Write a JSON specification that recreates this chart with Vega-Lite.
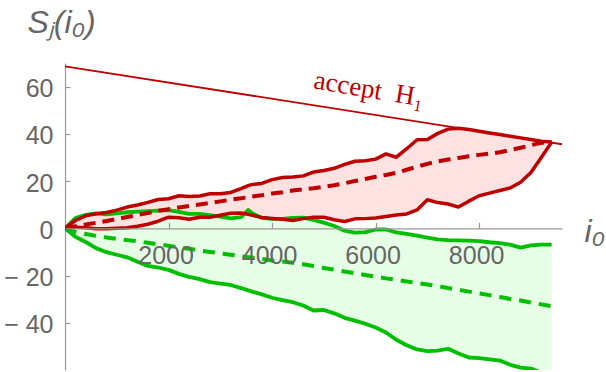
{
  "$schema": "https://vega.github.io/schema/vega-lite/v6.json",
  "width": 497,
  "height": 307,
  "autosize": {"type": "none"},
  "padding": {"left": 65, "top": 63, "right": 44, "bottom": 2},
  "background": "white",
  "config": {
    "view": {"stroke": null},
    "font": "Liberation Sans",
    "axis": {
      "grid": false, "labelFontSize": 25, "labelColor": "#666666", "labelFont": "Liberation Sans",
      "domainColor": "#999999", "tickColor": "#999999", "domainWidth": 1.2, "tickWidth": 1.2,
      "titleFontSize": 32, "titleFontWeight": "normal", "titleFontStyle": "italic", "titleColor": "#666666", "titleFont": "Liberation Sans",
      "titleAlign": "left", "titleBaseline": "alphabetic", "labelFlush": false, "labelOverlap": false
    },
    "axisY": {"tickSize": -5, "labelPadding": 17, "labelOffset": 2, "titleAngle": 0, "titleX": -38, "titleY": -31}
  },
  "datasets": {
    "curves": [
      {"x": 0, "rU": 0, "rL": 0, "rM": 0, "gU": 0, "gL": 0, "gM": 0},
      {"x": 200, "rU": 3.3, "rL": 0.5, "rM": 0.85, "gU": 4.3, "gL": -3.6, "gM": -1.5},
      {"x": 400, "rU": 5.3, "rL": 0.2, "rM": 1.6, "gU": 5.7, "gL": -5.8, "gM": -2.4},
      {"x": 600, "rU": 6.2, "rL": -0.2, "rM": 2.35, "gU": 6.3, "gL": -8.4, "gM": -3.2},
      {"x": 800, "rU": 6.7, "rL": -0.2, "rM": 3.1, "gU": 5.9, "gL": -10.1, "gM": -3.9},
      {"x": 1000, "rU": 7.7, "rL": 0, "rM": 3.9, "gU": 6.3, "gL": -11.2, "gM": -4.5},
      {"x": 1200, "rU": 9.0, "rL": 0.2, "rM": 4.8, "gU": 6.8, "gL": -12.3, "gM": -5.0},
      {"x": 1400, "rU": 9.9, "rL": 0.9, "rM": 5.6, "gU": 7.1, "gL": -14.2, "gM": -5.5},
      {"x": 1600, "rU": 11.0, "rL": 1.7, "rM": 6.5, "gU": 7.3, "gL": -15.9, "gM": -6.1},
      {"x": 1800, "rU": 12.2, "rL": 3.0, "rM": 7.4, "gU": 7.5, "gL": -16.6, "gM": -6.8},
      {"x": 2000, "rU": 12.5, "rL": 4.7, "rM": 8.1, "gU": 7.7, "gL": -17.6, "gM": -7.4},
      {"x": 2200, "rU": 13.8, "rL": 4.5, "rM": 8.8, "gU": 7.0, "gL": -19.3, "gM": -8.1},
      {"x": 2400, "rU": 13.5, "rL": 3.8, "rM": 9.5, "gU": 6.1, "gL": -20.6, "gM": -8.7},
      {"x": 2600, "rU": 13.7, "rL": 4.7, "rM": 10.1, "gU": 6.1, "gL": -21.5, "gM": -9.4},
      {"x": 2800, "rU": 14.6, "rL": 4.7, "rM": 10.7, "gU": 5.6, "gL": -22.8, "gM": -10.0},
      {"x": 3000, "rU": 14.6, "rL": 5.5, "rM": 11.4, "gU": 4.9, "gL": -23.4, "gM": -10.6},
      {"x": 3200, "rU": 15.2, "rL": 6.4, "rM": 12.1, "gU": 4.2, "gL": -24.0, "gM": -11.2},
      {"x": 3400, "rU": 16.8, "rL": 6.5, "rM": 12.7, "gU": 4.7, "gL": -25.3, "gM": -11.8},
      {"x": 3540, "rU": 18.1, "rL": 5.9, "rM": 13.2, "gU": 7.8, "gL": -26.3, "gM": -12.2},
      {"x": 3600, "rU": 18.5, "rL": 5.6, "rM": 13.4, "gU": 6.6, "gL": -26.7, "gM": -12.4},
      {"x": 3800, "rU": 19.0, "rL": 4.6, "rM": 14.0, "gU": 4.4, "gL": -28.0, "gM": -13.0},
      {"x": 4000, "rU": 20.6, "rL": 4.2, "rM": 14.7, "gU": 4.0, "gL": -29.4, "gM": -13.6},
      {"x": 4200, "rU": 21.5, "rL": 3.8, "rM": 15.3, "gU": 4.0, "gL": -30.4, "gM": -14.1},
      {"x": 4400, "rU": 21.7, "rL": 3.3, "rM": 16.0, "gU": 4.4, "gL": -31.3, "gM": -14.6},
      {"x": 4600, "rU": 22.2, "rL": 4.1, "rM": 16.5, "gU": 4.5, "gL": -32.7, "gM": -15.2},
      {"x": 4800, "rU": 23.8, "rL": 4.7, "rM": 17.0, "gU": 3.6, "gL": -34.8, "gM": -16.0},
      {"x": 5000, "rU": 24.5, "rL": 4.7, "rM": 17.6, "gU": 2.4, "gL": -34.6, "gM": -16.8},
      {"x": 5200, "rU": 25.4, "rL": 3.6, "rM": 18.2, "gU": 1.0, "gL": -36.0, "gM": -17.5},
      {"x": 5400, "rU": 27.1, "rL": 2.9, "rM": 19.1, "gU": -1.0, "gL": -37.9, "gM": -18.3},
      {"x": 5600, "rU": 28.4, "rL": 4.0, "rM": 20.0, "gU": -1.8, "gL": -39.1, "gM": -19.0},
      {"x": 5800, "rU": 28.6, "rL": 4.1, "rM": 20.9, "gU": -1.6, "gL": -40.4, "gM": -19.8},
      {"x": 6000, "rU": 29.3, "rL": 4.4, "rM": 21.8, "gU": -0.5, "gL": -42.0, "gM": -20.5},
      {"x": 6200, "rU": 31.5, "rL": 5.0, "rM": 22.6, "gU": -0.5, "gL": -44.1, "gM": -21.2},
      {"x": 6400, "rU": 30.1, "rL": 5.6, "rM": 23.5, "gU": -1.7, "gL": -47.2, "gM": -21.8},
      {"x": 6600, "rU": 33.7, "rL": 6.1, "rM": 24.8, "gU": -2.4, "gL": -49.5, "gM": -22.5},
      {"x": 6800, "rU": 37.5, "rL": 7.8, "rM": 26.1, "gU": -3.1, "gL": -51.3, "gM": -23.2},
      {"x": 7000, "rU": 37.6, "rL": 12.1, "rM": 27.3, "gU": -3.9, "gL": -52.0, "gM": -23.8},
      {"x": 7200, "rU": 40.2, "rL": 10.9, "rM": 28.3, "gU": -4.7, "gL": -51.8, "gM": -24.5},
      {"x": 7400, "rU": 42.0, "rL": 10.3, "rM": 29.1, "gU": -5.0, "gL": -51.0, "gM": -25.3},
      {"x": 7600, "rU": 42.4, "rL": 9.0, "rM": 29.8, "gU": -5.1, "gL": -53.0, "gM": -26.0},
      {"x": 7800, "rU": 41.8, "rL": 11.5, "rM": 30.5, "gU": -5.2, "gL": -54.7, "gM": -26.8},
      {"x": 8000, "rU": 41.1, "rL": 13.8, "rM": 31.1, "gU": -5.4, "gL": -55.0, "gM": -27.6},
      {"x": 8200, "rU": 40.4, "rL": 14.9, "rM": 31.6, "gU": -5.9, "gL": -55.5, "gM": -28.3},
      {"x": 8400, "rU": 39.7, "rL": 16.0, "rM": 32.2, "gU": -6.3, "gL": -56.0, "gM": -29.1},
      {"x": 8600, "rU": 39.0, "rL": 17.1, "rM": 33.2, "gU": -6.9, "gL": -57.8, "gM": -29.9},
      {"x": 8800, "rU": 38.3, "rL": 19.5, "rM": 34.1, "gU": -8.2, "gL": -59.0, "gM": -30.6},
      {"x": 9000, "rU": 37.6, "rL": 23.6, "rM": 35.2, "gU": -7.2, "gL": -59.4, "gM": -31.4},
      {"x": 9200, "rU": 36.9, "rL": 30.0, "rM": 36.2, "gU": -6.9, "gL": -61.2, "gM": -32.2},
      {"x": 9400, "rU": 36.5, "rL": 36.5, "rM": 36.5, "gU": -6.9, "gL": -62.4, "gM": -33.0}
    ],
    "thr": [
      {"x": 0, "y": 68.6},
      {"x": 9600, "y": 35.6}
    ],
    "lbl": [
      {"x": 4785, "y": 59.3, "text": "accept\u2002H\u2081"}
    ]
  },
  "layer": [
    {
      "data": {"name": "curves"},
      "mark": {"type": "area", "fill": "#e6fde6", "clip": true},
      "encoding": {
        "x": {
          "field": "x", "type": "quantitative", "title": "i\u2080",
          "scale": {"domain": [0, 9600], "nice": false, "zero": false},
          "axis": {
            "orient": "bottom", "offset": -141.7, "zindex": 2,
            "values": [2000, 4000, 6000, 8000],
            "labelExpr": "format(datum.value, 'd')",
            "tickSize": -6, "labelPadding": 21.4, "labelOffset": -3,
            "labelBaseline": "top", "labelAlign": "center",
            "titleX": 519, "titleY": 13
          }
        },
        "y": {
          "field": "gL", "type": "quantitative", "title": "S\u2C7C(i\u2080)",
          "scale": {"domain": [-60, 70], "nice": false, "zero": false},
          "axis": {
            "values": [-40, -20, 0, 20, 40, 60],
            "labelExpr": "datum.value < 0 ? '\u2212 ' + abs(datum.value) : datum.label"
          }
        },
        "y2": {"field": "gU"}
      }
    },
    {
      "data": {"name": "curves"},
      "mark": {"type": "area", "fill": "#fde2e2", "clip": true},
      "encoding": {
        "x": {"field": "x", "type": "quantitative", "title": "i\u2080"},
        "y": {"field": "rL", "type": "quantitative", "title": "S\u2C7C(i\u2080)"},
        "y2": {"field": "rU"}
      }
    },
    {
      "data": {"name": "thr"},
      "mark": {"type": "line", "stroke": "#bf0000", "strokeWidth": 1.8},
      "encoding": {
        "x": {"field": "x", "type": "quantitative", "title": "i\u2080"},
        "y": {"field": "y", "type": "quantitative", "title": "S\u2C7C(i\u2080)"}
      }
    },
    {
      "data": {"name": "curves"},
      "mark": {"type": "line", "stroke": "#00bf00", "strokeWidth": 4, "strokeDash": [12, 8], "clip": true},
      "encoding": {
        "x": {"field": "x", "type": "quantitative", "title": "i\u2080"},
        "y": {"field": "gM", "type": "quantitative", "title": "S\u2C7C(i\u2080)"}
      }
    },
    {
      "data": {"name": "curves"},
      "mark": {"type": "line", "stroke": "#00bf00", "strokeWidth": 3.8, "strokeJoin": "round", "clip": true},
      "encoding": {
        "x": {"field": "x", "type": "quantitative", "title": "i\u2080"},
        "y": {"field": "gL", "type": "quantitative", "title": "S\u2C7C(i\u2080)"}
      }
    },
    {
      "data": {"name": "curves"},
      "mark": {"type": "line", "stroke": "#00bf00", "strokeWidth": 3.8, "strokeJoin": "round", "clip": true},
      "encoding": {
        "x": {"field": "x", "type": "quantitative", "title": "i\u2080"},
        "y": {"field": "gU", "type": "quantitative", "title": "S\u2C7C(i\u2080)"}
      }
    },
    {
      "data": {"name": "curves"},
      "mark": {"type": "line", "stroke": "#bf0000", "strokeWidth": 4, "strokeDash": [12, 7], "clip": true},
      "encoding": {
        "x": {"field": "x", "type": "quantitative", "title": "i\u2080"},
        "y": {"field": "rM", "type": "quantitative", "title": "S\u2C7C(i\u2080)"}
      }
    },
    {
      "data": {"name": "curves"},
      "mark": {"type": "line", "stroke": "#bf0000", "strokeWidth": 3.5, "strokeJoin": "round", "clip": true},
      "encoding": {
        "x": {"field": "x", "type": "quantitative", "title": "i\u2080"},
        "y": {"field": "rL", "type": "quantitative", "title": "S\u2C7C(i\u2080)"}
      }
    },
    {
      "data": {"name": "curves"},
      "mark": {"type": "line", "stroke": "#bf0000", "strokeWidth": 3.5, "strokeJoin": "round", "clip": true},
      "encoding": {
        "x": {"field": "x", "type": "quantitative", "title": "i\u2080"},
        "y": {"field": "rU", "type": "quantitative", "title": "S\u2C7C(i\u2080)"}
      }
    },
    {
      "data": {"name": "lbl"},
      "mark": {"type": "text", "font": "Liberation Serif", "fontSize": 27, "angle": 9.5, "align": "left", "baseline": "alphabetic", "color": "#bf0000"},
      "encoding": {
        "x": {"field": "x", "type": "quantitative", "title": "i\u2080"},
        "y": {"field": "y", "type": "quantitative", "title": "S\u2C7C(i\u2080)"},
        "text": {"field": "text"}
      }
    }
  ]
}
